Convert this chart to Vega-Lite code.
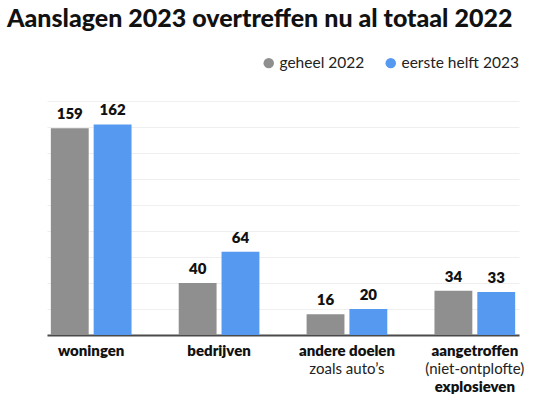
{
  "$schema": "https://vega.github.io/schema/vega-lite/v6.json",
  "width": 472,
  "height": 234,
  "autosize": "none",
  "padding": {"left": 47, "top": 101, "right": 36, "bottom": 65},
  "background": "white",
  "config": {
    "font": "Lato",
    "view": {"stroke": null}
  },
  "title": {
    "text": "Aanslagen 2023 overtreffen nu al totaal 2022",
    "anchor": "start",
    "frame": "group",
    "dx": -40,
    "dy": 25,
    "fontSize": 25,
    "fontWeight": 900,
    "font": "Lato",
    "color": "#111111",
    "baseline": "alphabetic",
    "offset": 28
  },
  "layer": [
    {
      "data": {
        "values": [
          {"cat": "woningen", "series": "geheel 2022", "value": 159},
          {"cat": "woningen", "series": "eerste helft 2023", "value": 162},
          {"cat": "bedrijven", "series": "geheel 2022", "value": 40},
          {"cat": "bedrijven", "series": "eerste helft 2023", "value": 64},
          {"cat": "andere doelen", "series": "geheel 2022", "value": 16},
          {"cat": "andere doelen", "series": "eerste helft 2023", "value": 20},
          {"cat": "aangetroffen", "series": "geheel 2022", "value": 34},
          {"cat": "aangetroffen", "series": "eerste helft 2023", "value": 33}
        ]
      },
      "encoding": {
        "x": {
          "field": "cat",
          "type": "nominal",
          "sort": ["woningen", "bedrijven", "andere doelen", "aangetroffen"],
          "scale": {"paddingInner": 0.369, "paddingOuter": 0.03},
          "axis": {
            "title": null,
            "labelAngle": 0,
            "ticks": false,
            "domainColor": "#4a4a4a",
            "domainWidth": 2,
            "labelFont": "Lato",
            "labelFontSize": 15,
            "labelFontWeight": 800,
            "labelColor": "#111111",
            "labelPadding": 8,
            "labelBaseline": "top"
          }
        },
        "xOffset": {
          "field": "series",
          "type": "nominal",
          "sort": ["geheel 2022", "eerste helft 2023"],
          "scale": {"paddingInner": 0.116, "paddingOuter": 0}
        },
        "y": {
          "field": "value",
          "type": "quantitative",
          "scale": {"domain": [0, 180]},
          "axis": {
            "title": null,
            "labels": false,
            "ticks": false,
            "domain": false,
            "values": [0, 20, 40, 60, 80, 100, 120, 140, 160, 180],
            "tickCount": 12,
            "gridColor": "#efefef",
            "gridWidth": 1
          }
        }
      },
      "layer": [
        {
          "mark": {"type": "bar"},
          "encoding": {
            "color": {
              "field": "series",
              "type": "nominal",
              "scale": {"domain": ["geheel 2022", "eerste helft 2023"], "range": ["#8f8f8f", "#5699f0"]},
              "legend": {
                "title": null,
                "orient": "none",
                "direction": "horizontal",
                "legendX": 214,
                "legendY": -46,
                "symbolType": "circle",
                "symbolSize": 110,
                "symbolStrokeWidth": 0,
                "labelFont": "Lato",
                "labelFontSize": 15.5,
                "labelColor": "#222222",
                "labelOffset": 3,
                "columnPadding": 18
              }
            }
          }
        },
        {
          "mark": {"type": "text", "baseline": "alphabetic", "dy": -9, "fontSize": 15, "fontWeight": 800, "font": "Lato", "color": "#111111"},
          "encoding": {
            "text": {"field": "value", "type": "quantitative"}
          }
        }
      ]
    },
    {
      "data": {
        "values": [
          {"cat": "andere doelen", "sub": "zoals auto’s"},
          {"cat": "aangetroffen", "sub": "(niet-ontplofte)"}
        ]
      },
      "mark": {"type": "text", "baseline": "middle", "dy": 34, "fontSize": 15, "font": "Lato", "color": "#222222"},
      "encoding": {
        "x": {"field": "cat", "type": "nominal", "sort": ["woningen", "bedrijven", "andere doelen", "aangetroffen"]},
        "y": {"datum": 0, "type": "quantitative"},
        "text": {"field": "sub"}
      }
    },
    {
      "data": {
        "values": [
          {"cat": "aangetroffen", "sub": "explosieven"}
        ]
      },
      "mark": {"type": "text", "baseline": "middle", "dy": 52, "fontSize": 15, "fontWeight": 800, "font": "Lato", "color": "#111111"},
      "encoding": {
        "x": {"field": "cat", "type": "nominal", "sort": ["woningen", "bedrijven", "andere doelen", "aangetroffen"]},
        "y": {"datum": 0, "type": "quantitative"},
        "text": {"field": "sub"}
      }
    }
  ]
}
